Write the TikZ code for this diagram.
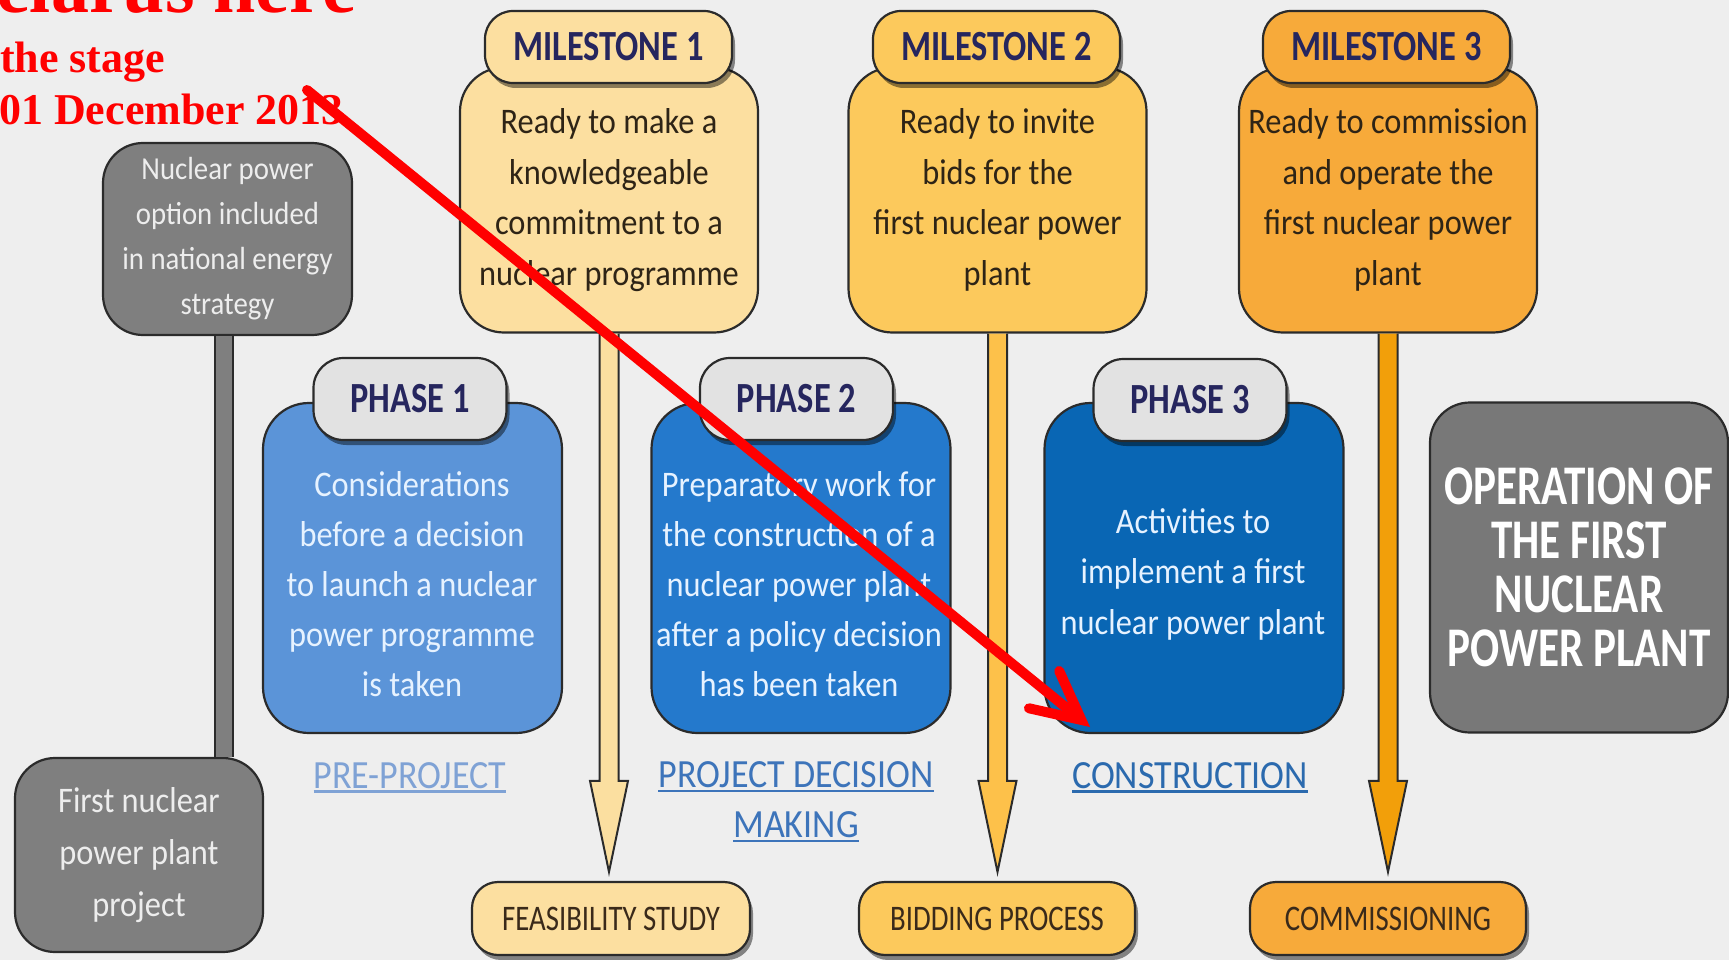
\documentclass[tikz,border=0pt]{standalone}
\usepackage{fontspec}
\setmainfont{Carlito}
\newfontfamily\bodyf[FakeStretch=0.9]{Carlito}
\newfontfamily\labf[FakeStretch=0.8]{Carlito}
\newfontfamily\opf[FakeStretch=0.77]{Carlito}
\newfontfamily\redf{Liberation Serif}
\usetikzlibrary{shadows,calc,arrows.meta}
\definecolor{bgc}{HTML}{EEEEEE}
\definecolor{outl}{HTML}{2B2B2B}
\definecolor{navyc}{HTML}{26265E}
\definecolor{mtextc}{HTML}{2E2416}
\definecolor{mfa}{HTML}{FCDFA0}
\definecolor{mfb}{HTML}{FCC95C}
\definecolor{mfc}{HTML}{F7AA3A}
\definecolor{afa}{HTML}{FBDFA0}
\definecolor{afb}{HTML}{FDC14A}
\definecolor{afc}{HTML}{F29F0A}
\definecolor{plabc}{HTML}{E2E2E2}
\definecolor{pfa}{HTML}{5B94D8}
\definecolor{pfb}{HTML}{2479CC}
\definecolor{pfc}{HTML}{0966B4}
\definecolor{ptextc}{HTML}{E6F2FF}
\definecolor{grayf}{HTML}{7F7F7F}
\definecolor{opfill}{HTML}{787878}
\definecolor{gtextc}{HTML}{EDEDED}
\definecolor{sca}{HTML}{7FA2D5}
\definecolor{scb}{HTML}{3D74BA}
\definecolor{scc}{HTML}{2B6AAE}
\definecolor{btextc}{HTML}{3A2A1A}
\definecolor{redc}{HTML}{FF0000}
\newcommand{\myul}[1]{\leavevmode\setbox0=\hbox{#1}\rlap{\rule[-5pt]{\wd0}{2.6pt}}\box0}
\newcommand{\bigarrow}[3]{%
  \draw[draw=outl,line width=2pt,fill=#3,line join=miter]
    let \p1=(#1.south), \p2=(#2.north) in
    (\x1-9.5pt,\y1) -- (\x1-9.5pt,\y2+100pt) -- (\x1-19pt,\y2+100pt) --
    (\x1,\y2+9pt) -- (\x1+19pt,\y2+100pt) -- (\x1+9.5pt,\y2+100pt) -- (\x1+9.5pt,\y1);}
\begin{document}
\begin{tikzpicture}[x=1pt,y=-1pt,
  shad/.style={drop shadow={shadow xshift=3pt,shadow yshift=-5pt,opacity=0.45,fill=black}},
  mbody/.style={draw=outl,line width=2.2pt,rounded corners=44pt,minimum width=298pt,minimum height=265pt,inner sep=0pt,
    align=center,font=\bodyf\fontsize{36}{50.5}\selectfont,text=mtextc},
  mlab/.style={draw=outl,line width=2.2pt,rounded corners=28pt,minimum width=247pt,minimum height=72pt,inner sep=0pt,
    font=\labf\bfseries\fontsize{43}{50}\selectfont,text=navyc,shad},
  pbody/.style={draw=outl,line width=2.2pt,rounded corners=46pt,minimum width=299pt,minimum height=330pt,inner sep=0pt},
  plab/.style={draw=outl,line width=2.2pt,fill=plabc,rounded corners=30pt,minimum width=193pt,minimum height=82pt,inner sep=0pt,
    font=\labf\bfseries\fontsize{43}{50}\selectfont,text=navyc,shad},
  ptext/.style={align=center,font=\bodyf\fontsize{36}{50}\selectfont,text=ptextc,inner sep=0pt},
  bbox/.style={draw=outl,line width=2.2pt,rounded corners=26pt,minimum width=277pt,minimum height=73pt,inner sep=0pt,
    font=\labf\fontsize{36}{40}\selectfont,text=btextc,shad},
  gbox/.style={draw=outl,line width=2.2pt,fill=grayf,rounded corners=40pt,inner sep=0pt,align=center,text=gtextc},
  subt/.style={font=\bodyf\fontsize{40}{50}\selectfont,align=center,inner sep=0pt},
  redt/.style={text=redc,inner sep=0pt,anchor=base west},
  graybar/.style={draw=outl,line width=1.6pt,double=grayf,double distance=16pt}
]
\useasboundingbox (0,0) rectangle (1729,960);
\clip (0,0) rectangle (1729,960);
\fill[bgc] (0,0) rectangle (1729,960);

% red header text
\node[redt,font=\redf\bfseries\fontsize{76}{80}\selectfont] (r1) at (-4,13) {elarus here};
\node[redt,font=\redf\bfseries\fontsize{44}{50}\selectfont] (r2) at (0,73) {the stage};
\node[redt,font=\redf\bfseries\fontsize{44}{50}\selectfont] (r3) at (-1,125) {01 December 2013};

% left grey boxes
\node[gbox,minimum width=249pt,minimum height=192pt,font=\bodyf\fontsize{32}{45}\selectfont] (n1) at (227.5,239)
  {Nuclear power\\option included\\in national energy\\strategy};
\node[gbox,minimum width=248pt,minimum height=194pt,font=\bodyf\fontsize{36}{52}\selectfont] (n2) at (139,855)
  {First nuclear\\power plant\\project};

% milestones
\node[mbody,fill=mfa] (m1) at (609,200) {Ready to make a\\knowledgeable\\commitment to a\\nuclear programme};
\node[mlab,fill=mfa] (m1l) at (608.5,47) {MILESTONE 1};
\node[mbody,fill=mfb] (m2) at (997.5,200) {Ready to invite\\bids for the\\first nuclear power\\plant};
\node[mlab,fill=mfb] (m2l) at (996.5,47) {MILESTONE 2};
\node[mbody,fill=mfc] (m3) at (1388,200) {Ready to commission\\and operate the\\first nuclear power\\plant};
\node[mlab,fill=mfc] (m3l) at (1386.5,47) {MILESTONE 3};

% phases
\node[pbody,fill=pfa] (p1) at (412.5,568) {};
\node[plab] (p1l) at (410,399) {PHASE 1};
\node[ptext] (p1t) at (412,584) {Considerations\\before a decision\\to launch a nuclear\\power programme\\is taken};
\node[pbody,fill=pfb] (p2) at (801,568) {};
\node[plab] (p2l) at (796.5,399) {PHASE 2};
\node[ptext] (p2t) at (799,584) {Preparatory work for\\the construction of a\\nuclear power plant\\after a policy decision\\has been taken};
\node[pbody,fill=pfc] (p3) at (1194,568) {};
\node[plab] (p3l) at (1190,400) {PHASE 3};
\node[ptext,font=\bodyf\fontsize{36}{50.5}\selectfont] (p3t) at (1193,574) {Activities to\\implement a first\\nuclear power plant};

% operation box
\node[gbox,fill=opfill,minimum width=298pt,minimum height=330pt,font=\opf\bfseries\fontsize{56}{54}\selectfont,text=white] (op) at (1579,567.5)
  {OPERATION OF\\THE FIRST\\NUCLEAR\\POWER PLANT};

% phase subtitles
\node[subt,text=sca,anchor=base] (s1) at (410,788) {\myul{PRE-PROJECT}};
\node[subt,text=scb,anchor=north] (s2) at (796,761) {\myul{PROJECT DECISION}\\\myul{MAKING}};
\node[subt,text=scc,anchor=base] (s3) at (1190,788) {\myul{CONSTRUCTION}};

% bottom boxes
\node[bbox,fill=mfa,minimum width=278pt] (f1) at (611,918.5) {FEASIBILITY STUDY};
\node[bbox,fill=mfb,minimum width=276pt] (f2) at (997,918.5) {BIDDING PROCESS};
\node[bbox,fill=mfc,minimum width=276pt] (f3) at (1388,918.5) {COMMISSIONING};

% connectors
\coordinate (g1) at ([xshift=-3.5pt]n1.south);
\draw[graybar] (g1) -- (g1 |- n2.north);
\bigarrow{m1}{f1}{afa}
\bigarrow{m2}{f2}{afb}
\bigarrow{m3}{f3}{afc}

% red annotation arrow
\coordinate (rs) at (307,90);
\coordinate (re) at (1090,727);
\draw[redc,line width=10pt,line cap=round,-{Straight Barb[length=48pt,width=48pt,line cap=round]}] (rs) -- (re);
\end{tikzpicture}
\end{document}
